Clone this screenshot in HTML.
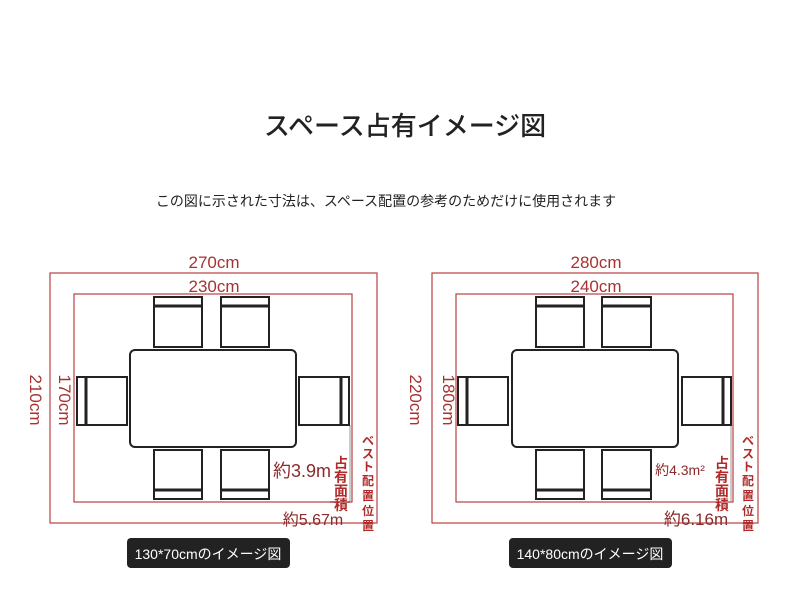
<!DOCTYPE html>
<html><head><meta charset="utf-8"><style>
html,body{margin:0;padding:0;background:#fff;}
svg{display:block;}
text{font-family:"Liberation Sans","Noto Sans CJK JP",sans-serif;}
</style></head><body>
<svg width="790" height="612" viewBox="0 0 790 612" xmlns="http://www.w3.org/2000/svg">
<rect width="790" height="612" fill="#fff"/>
<text x="405" y="135" font-size="26" font-weight="500" fill="#222" text-anchor="middle" font-family="Noto Sans CJK JP, sans-serif">スペース占有イメージ図</text>
<text x="386" y="206" font-size="14" fill="#222" text-anchor="middle" font-family="Noto Sans CJK JP, sans-serif">この図に示された寸法は、スペース配置の参考のためだけに使用されます</text>

<!-- LEFT -->
<g fill="none" stroke="#b84040" stroke-width="1.2">
<rect x="50" y="273" width="327" height="250"/>
<rect x="74" y="294" width="278" height="208"/>
</g>
<line x1="350" y1="425" x2="350" y2="502" stroke="#999" stroke-width="1"/>
<line x1="330" y1="502" x2="350" y2="502" stroke="#8b2a2a" stroke-width="1.2"/>
<g fill="#fff" stroke="#222" stroke-width="2">
<rect x="130" y="350" width="166" height="97" rx="5"/>
<rect x="154" y="297" width="48" height="50"/>
<rect x="221" y="297" width="48" height="50"/>
<rect x="154" y="450" width="48" height="49"/>
<rect x="221" y="450" width="48" height="49"/>
<rect x="77" y="377" width="50" height="48"/>
<rect x="299" y="377" width="50" height="48"/>
</g>
<g stroke="#222" stroke-width="3">
<line x1="154" y1="306" x2="202" y2="306"/><line x1="221" y1="306" x2="269" y2="306"/>
<line x1="154" y1="490" x2="202" y2="490"/><line x1="221" y1="490" x2="269" y2="490"/>
<line x1="86" y1="377" x2="86" y2="425"/><line x1="341" y1="377" x2="341" y2="425"/>
</g>
<g fill="#a83232" font-size="17" text-anchor="middle">
<text x="214" y="268">270cm</text>
<text x="214" y="292">230cm</text>
<text transform="translate(30,400) rotate(90)">210cm</text>
<text transform="translate(59,400) rotate(90)">170cm</text>
</g>
<text x="302" y="477" font-size="18" fill="#8b2a2a" text-anchor="middle">約3.9m</text>
<text x="313" y="525" font-size="16" fill="#8b2a2a" text-anchor="middle">約5.67m</text>
<g fill="#b02a2a" font-weight="bold" text-anchor="middle" font-family="Noto Sans CJK JP, sans-serif">
<text x="341" y="468" font-size="14">占</text><text x="341" y="482" font-size="14">有</text><text x="341" y="496" font-size="14">面</text><text x="341" y="510" font-size="14">積</text>
<text x="368" y="445" font-size="12">ベ</text><text x="368" y="458" font-size="12">ス</text><text x="368" y="471" font-size="12">ト</text><text x="368" y="485" font-size="12">配</text><text x="368" y="500" font-size="12">置</text><text x="368" y="515" font-size="12">位</text><text x="368" y="530" font-size="12">置</text>
</g>
<rect x="127" y="538" width="163" height="30" rx="4" fill="#222"/>
<text x="208" y="559" font-size="14" fill="#fff" text-anchor="middle">130*70cmのイメージ図</text>

<!-- RIGHT -->
<g fill="none" stroke="#b84040" stroke-width="1.2">
<rect x="432" y="273" width="326" height="250"/>
<rect x="456" y="294" width="277" height="208"/>
</g>
<line x1="731" y1="425" x2="731" y2="502" stroke="#999" stroke-width="1"/>
<g fill="#fff" stroke="#222" stroke-width="2">
<rect x="512" y="350" width="166" height="97" rx="5"/>
<rect x="536" y="297" width="48" height="50"/>
<rect x="602" y="297" width="49" height="50"/>
<rect x="536" y="450" width="48" height="49"/>
<rect x="602" y="450" width="49" height="49"/>
<rect x="458" y="377" width="50" height="48"/>
<rect x="682" y="377" width="49" height="48"/>
</g>
<g stroke="#222" stroke-width="3">
<line x1="536" y1="306" x2="584" y2="306"/><line x1="602" y1="306" x2="651" y2="306"/>
<line x1="536" y1="490" x2="584" y2="490"/><line x1="602" y1="490" x2="651" y2="490"/>
<line x1="467" y1="377" x2="467" y2="425"/><line x1="723" y1="377" x2="723" y2="425"/>
</g>
<g fill="#a83232" font-size="17" text-anchor="middle">
<text x="596" y="268">280cm</text>
<text x="596" y="292">240cm</text>
<text transform="translate(410,400) rotate(90)">220cm</text>
<text transform="translate(443,400) rotate(90)">180cm</text>
</g>
<text x="680" y="475" font-size="14" fill="#8b2a2a" text-anchor="middle">約4.3m²</text>
<text x="696" y="525" font-size="17" fill="#8b2a2a" text-anchor="middle">約6.16m</text>
<g fill="#b02a2a" font-weight="bold" text-anchor="middle" font-family="Noto Sans CJK JP, sans-serif">
<text x="722" y="468" font-size="14">占</text><text x="722" y="482" font-size="14">有</text><text x="722" y="496" font-size="14">面</text><text x="722" y="510" font-size="14">積</text>
<text x="748" y="445" font-size="12">ベ</text><text x="748" y="458" font-size="12">ス</text><text x="748" y="471" font-size="12">ト</text><text x="748" y="485" font-size="12">配</text><text x="748" y="500" font-size="12">置</text><text x="748" y="515" font-size="12">位</text><text x="748" y="530" font-size="12">置</text>
</g>
<rect x="509" y="538" width="163" height="30" rx="4" fill="#222"/>
<text x="590" y="559" font-size="14" fill="#fff" text-anchor="middle">140*80cmのイメージ図</text>
</svg>
</body></html>
